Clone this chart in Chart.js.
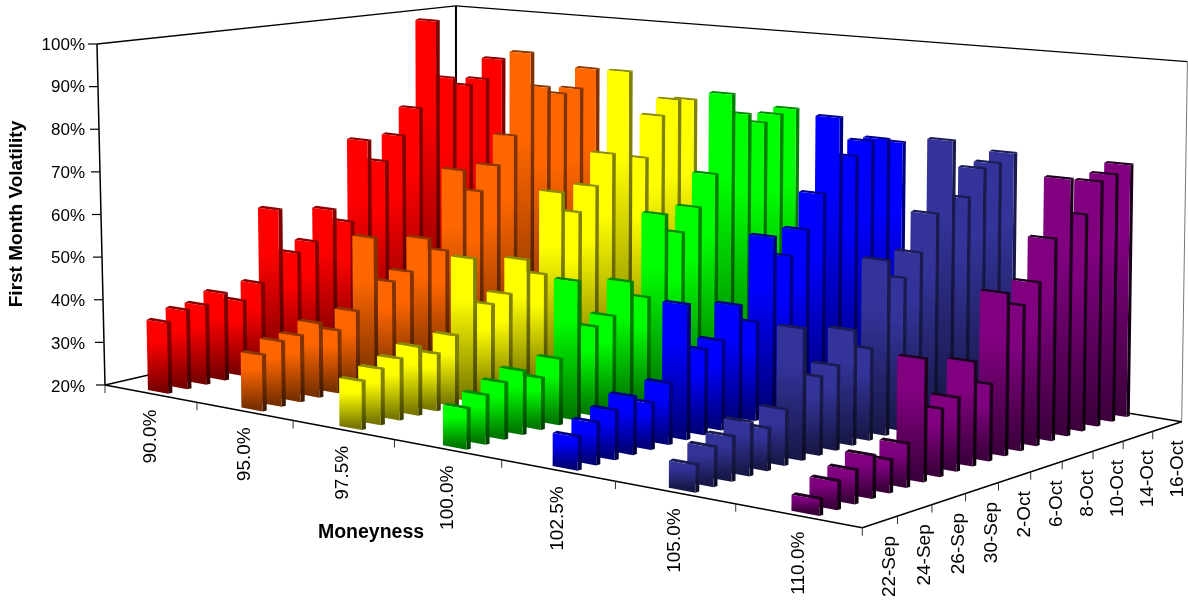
<!DOCTYPE html>
<html>
<head>
<meta charset="utf-8">
<title>First Month Volatility</title>
<script src="https://cdn.jsdelivr.net/npm/chart.js@4/dist/chart.umd.js"></script>
<style>
    html, body { margin: 0; padding: 0; background: #fff; overflow: hidden; }
    #wrap { width: 1188px; height: 601px; position: relative; }
</style>
</head>
<body>
<div id="wrap"><canvas id="chart"></canvas></div>
<script>
const dates = ['22-Sep', '23-Sep', '24-Sep', '25-Sep', '26-Sep', '29-Sep', '30-Sep', '1-Oct', '2-Oct', '3-Oct',
    '6-Oct', '7-Oct', '8-Oct', '9-Oct', '10-Oct', '13-Oct', '14-Oct', '15-Oct', '16-Oct', '17-Oct'];
const moneyness = ['90.0%', '95.0%', '97.5%', '100.0%', '102.5%', '105.0%', '110.0%'];
const colors = ['#ff0000', '#ff6600', '#ffff00', '#00ff00', '#0000ff', '#333399', '#800080'];
const edgeShades = [0.5, 0.5, 0.5, 0.5, 0.5, 0.5, 0.22];

const vol90 = [36.3, 38.2, 38.5, 40.4, 37.7, 41.0, 57.9, 46.6, 48.5, 55.6, 51.8, 71.3, 65.4, 71.2, 77.5, 99.3, 84.1, 81.6, 82.6, 87.3];
const vol95 = [32.5, 34.6, 35.0, 36.9, 34.3, 37.9, 54.2, 43.0, 44.5, 51.6, 47.9, 66.6, 60.8, 66.4, 73.1, 93.2, 84.1, 81.8, 82.5, 87.0];
const vol975 = [30.5, 32.2, 33.5, 35.2, 32.7, 35.9, 52.5, 41.2, 42.7, 49.8, 45.6, 64.1, 58.7, 64.2, 71.3, 90.7, 69.0, 78.7, 82.1, 81.5];
const vol100 = [28.6, 30.4, 32.1, 33.7, 31.2, 34.4, 50.7, 39.7, 41.2, 48.1, 43.7, 61.9, 57.0, 62.1, 69.2, 87.5, 82.2, 79.5, 80.9, 81.7];
const vol1025 = [26.8, 28.7, 30.2, 32.1, 29.8, 33.0, 49.0, 38.4, 39.4, 46.3, 41.7, 59.9, 54.8, 60.0, 67.5, 84.4, 74.8, 77.7, 77.6, 76.2];
const vol105 = [25.4, 27.9, 29.0, 30.9, 28.6, 31.5, 47.4, 36.4, 37.8, 44.4, 39.6, 57.8, 53.2, 58.0, 65.9, 81.6, 68.1, 74.0, 74.6, 76.3];
const vol110 = [23.1, 25.5, 26.6, 28.4, 26.5, 28.7, 44.8, 33.7, 35.0, 41.5, 35.9, 54.1, 50.7, 54.8, 63.4, 75.7, 67.2, 73.8, 74.7, 76.3];
const series = [vol90, vol95, vol975, vol100, vol1025, vol105, vol110];

const BLACK = '#000';
const FONT_FAMILY = 'Arial, "Liberation Sans", sans-serif';
const BAR_T = 0.22;   // slab size as a share of its moneyness band
const BAR_S = 0.22;   // slab depth as a share of its date slot

// floor fraction t (moneyness), s (date) and height fraction v to screen pixels
function project(t, s, v) {
    const tw = t - 0.0135 * Math.sin(Math.PI * t) * (1 - 0.6 * s);
    const w = 1 - 0.12943 * tw + 0.10051 * s;
    const fx = (645.7 * tw + 396.8 * s + 105) / w;
    const fy = (74.4 * tw - 49.9 * s + 385) / w;
    const h = 341 * v / (1 - 0.195 * t + 0.142 * s);
    const lean = fx < 456 ? 6.7e-5 : 2.2e-5;
    return { x: fx + (fx - 456) * lean * h, y: fy - h };
}

function scaleColor(hex, f) {
    const n = parseInt(hex.slice(1), 16);
    const r = Math.round((n >> 16 & 255) * f);
    const g = Math.round((n >> 8 & 255) * f);
    const b = Math.round((n & 255) * f);
    return `rgb(${r},${g},${b})`;
}

function poly(ctx, pts, fill) {
    ctx.beginPath();
    pts.forEach((p, i) => i ? ctx.lineTo(p.x, p.y) : ctx.moveTo(p.x, p.y));
    ctx.closePath();
    ctx.fillStyle = fill;
    ctx.fill();
}

function segment(ctx, a, b, width, color) {
    ctx.beginPath();
    ctx.moveTo(a.x, a.y);
    ctx.lineTo(b.x, b.y);
    ctx.lineWidth = width;
    ctx.strokeStyle = color || BLACK;
    ctx.stroke();
}

function shade(ctx, top, bottom, hex, f) {
    const g = ctx.createLinearGradient(0, top.y, 0, bottom.y);
    g.addColorStop(0, scaleColor(hex, f));
    g.addColorStop(0.3, scaleColor(hex, f));
    g.addColorStop(1, scaleColor(hex, f * 0.47));
    return g;
}

function drawSlab(ctx, t0, t1, s0, s1, v, hex, edge) {
    const a = project(t0, s0, 0), b = project(t1, s0, 0), c = project(t1, s1, 0);
    const at = project(t0, s0, v), bt = project(t1, s0, v), ct = project(t1, s1, v), dt = project(t0, s1, v);

    // a cap that is always at least a pixel or so thick
    ct.y -= 1.2;
    dt.y -= 1.2;
    poly(ctx, [at, bt, ct, dt], scaleColor(hex, edge * 1.1));
    poly(ctx, [b, c, ct, bt], shade(ctx, bt, b, hex, edge));
    poly(ctx, [a, b, bt, at], shade(ctx, at, a, hex, 1));
}

function drawFrame(ctx, yScale) {
    const A = project(0, 0, 0), B = project(1, 0, 0), C = project(1, 1, 0), D = project(0, 1, 0);
    const At = project(0, 0, 1), Ct = project(1, 1, 1), Dt = project(0, 1, 1);

    segment(ctx, A, At, 1.5);
    segment(ctx, At, Dt, 1.3);
    segment(ctx, Dt, Ct, 1.3);
    segment(ctx, D, Dt, 2);
    segment(ctx, C, Ct, 1, '#777');
    segment(ctx, A, D, 1.5);
    segment(ctx, D, C, 1.5);
    segment(ctx, A, B, 1.5);
    segment(ctx, B, C, 1.5);

    // value ticks along the left edge
    yScale.ticks.forEach(tick => {
        const v = (yScale.bottom - yScale.getPixelForValue(tick.value)) / yScale.height;
        const p = project(0, 0, v);
        segment(ctx, { x: p.x - 9, y: p.y }, p, 1.2);
    });

    // moneyness ticks and date ticks hang under the floor edges
    for (let k = 0; k <= moneyness.length; k++) {
        const p = project(k / moneyness.length, 0, 0);
        segment(ctx, p, { x: p.x, y: p.y + 8 }, 1, '#333');
    }
    for (let i = 2; i < dates.length; i += 2) {
        const p = project(1, i / dates.length, 0);
        segment(ctx, p, { x: p.x, y: p.y + 8 }, 1, '#333');
    }
}

function verticalText(ctx, text, x, y) {
    ctx.save();
    ctx.translate(x, y);
    ctx.rotate(-Math.PI / 2);
    ctx.textAlign = 'right';
    ctx.textBaseline = 'middle';
    ctx.fillText(text, 0, 0);
    ctx.restore();
}

const bars3d = {
    id: 'bars3d',
    beforeDatasetsDraw(chart) {
        const ctx = chart.ctx;
        const { x: dateScale, m: moneyScale, y: yScale } = chart.scales;
        const slotS = 1 / dates.length;
        const slotT = 1 / moneyness.length;

        ctx.save();
        drawFrame(ctx, yScale);

        // back to front: low moneyness first, latest date first
        chart.data.datasets.forEach((ds, k) => {
            const t = (moneyScale.getPixelForValue(k) - moneyScale.left) / moneyScale.width;
            for (let i = ds.data.length - 1; i >= 0; i--) {
                const s = (dateScale.getPixelForValue(i) - dateScale.left) / dateScale.width;
                const v = (yScale.bottom - yScale.getPixelForValue(ds.data[i])) / yScale.height;
                drawSlab(ctx, t - slotT * BAR_T / 2, t + slotT * BAR_T / 2,
                    s - slotS * BAR_S / 2, s + slotS * BAR_S / 2, v, ds.backgroundColor, edgeShades[k]);
            }
        });

        ctx.fillStyle = BLACK;
        ctx.font = '19px ' + FONT_FAMILY;
        moneyness.forEach((label, k) => {
            const p = project((k + 0.5) / moneyness.length, 0, 0);
            verticalText(ctx, label, p.x, p.y + 16);
        });
        dates.forEach((label, i) => {
            if (i % 2) return;
            const p = project(1, (i + 1) / dates.length, 0);
            verticalText(ctx, label, p.x + 10, p.y + 14);
        });

        ctx.font = 'bold 19.5px ' + FONT_FAMILY;
        ctx.textAlign = 'center';
        ctx.textBaseline = 'middle';
        ctx.fillText('Moneyness', 371, 533);
        ctx.restore();
        return false;
    }
};

new Chart(document.getElementById('chart'), {
    type: 'bar',
    data: {
        labels: dates,
        datasets: moneyness.map((label, k) => ({
            label: label,
            data: series[k],
            backgroundColor: colors[k]
        }))
    },
    plugins: [bars3d],
    options: {
        responsive: true,
        maintainAspectRatio: false,
        animation: false,
        layout: { padding: { top: 43, bottom: 216 } },
        plugins: {
            legend: { display: false },
            tooltip: { enabled: false }
        },
        scales: {
            x: { display: false, offset: true, ticks: { autoSkip: false } },
            m: { type: 'category', axis: 'x', position: 'bottom', labels: moneyness, display: false, offset: true, ticks: { autoSkip: false } },
            y: {
                min: 20,
                max: 100,
                grid: { display: false, drawTicks: false },
                border: { display: false },
                afterFit: scale => { scale.width = 100; },
                ticks: {
                    stepSize: 10,
                    padding: 15,
                    labelOffset: 2,
                    color: BLACK,
                    font: { family: FONT_FAMILY, size: 17 },
                    callback: v => v + '%'
                },
                title: {
                    display: true,
                    text: 'First Month Volatility',
                    color: BLACK,
                    padding: { top: 5.5, bottom: 0 },
                    font: { family: FONT_FAMILY, size: 19, weight: 'bold' }
                }
            }
        }
    }
});
</script>
</body>
</html>
